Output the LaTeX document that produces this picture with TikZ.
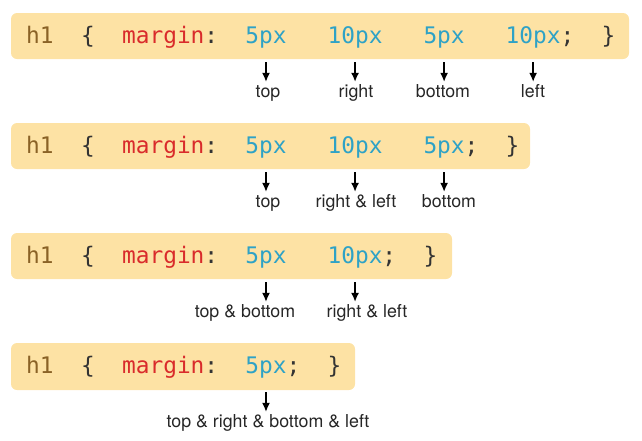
\documentclass[tikz,border=0pt]{standalone}
\usepackage{fontspec}
\setmainfont{TeX Gyre Heros}
\setmonofont{DejaVu Sans Mono}
\usetikzlibrary{arrows.meta}
\definecolor{boxbg}{HTML}{FDE2A4}
\definecolor{tagbrown}{HTML}{8A6226}
\definecolor{propred}{HTML}{D92B2B}
\definecolor{valblue}{HTML}{2EA2C6}
\definecolor{punct}{HTML}{333333}

\tikzset{
  code/.style={anchor=base west, inner sep=0pt, text=punct,
    font=\ttfamily\fontsize{22.8}{26}\selectfont, text height=17pt, text depth=5pt},
  lbl/.style={anchor=base, inner xsep=0pt, inner ysep=3pt, text=black!85,
    font=\fontsize{17.8}{21}\selectfont, text height=12pt, text depth=4pt},
  arr/.style={->, line width=1.4pt},
}

\begin{document}
\begin{tikzpicture}[x=1pt,y=-1pt]

\tikzset{>={Latex[length=9pt,width=8pt]}}
\def\cw{13.7}
\def\xz{26}

\useasboundingbox (0,0) rectangle (642,440);

% four values
\fill[boxbg, rounded corners=6pt] (11,13) rectangle (629,59);
\draw ({\xz},43) node[code,text=tagbrown] (h1a) {h1};
\draw ({\xz+4*\cw},43) node[code] (opa) {\{};
\draw ({\xz+7*\cw},43) node[code,text=propred] (propa) {margin};
\draw ({\xz+13*\cw},43) node[code] (cola) {:};
\draw ({\xz+16*\cw},43) node[code,text=valblue] (va1) {5px};
\draw ({\xz+22*\cw},43) node[code,text=valblue] (va2) {10px};
\draw ({\xz+29*\cw},43) node[code,text=valblue] (va3) {5px};
\draw ({\xz+35*\cw},43) node[code,text=valblue] (va4) {10px};
\draw ({\xz+39*\cw},43) node[code] (semia) {;};
\draw ({\xz+42*\cw},43) node[code] (cla) {\}};

\draw (268,97) node[lbl] (ta1) {top};
\draw (356,97) node[lbl] (ta2) {right};
\draw (443,97) node[lbl] (ta3) {bottom};
\draw (533,97) node[lbl] (ta4) {left};

\draw[arr] ([yshift=-14pt]va1.south) -- (va1.south |- ta1.north);
\draw[arr] ([yshift=-14pt]va2.south) -- (va2.south |- ta2.north);
\draw[arr] ([yshift=-14pt]va3.south) -- (va3.south |- ta3.north);
\draw[arr] ([yshift=-14pt]va4.south) -- (va4.south |- ta4.north);

% three values
\fill[boxbg, rounded corners=6pt] (11,123) rectangle (530,169);
\draw ({\xz},153) node[code,text=tagbrown] (h1b) {h1};
\draw ({\xz+4*\cw},153) node[code] (opb) {\{};
\draw ({\xz+7*\cw},153) node[code,text=propred] (propb) {margin};
\draw ({\xz+13*\cw},153) node[code] (colb) {:};
\draw ({\xz+16*\cw},153) node[code,text=valblue] (vb1) {5px};
\draw ({\xz+22*\cw},153) node[code,text=valblue] (vb2) {10px};
\draw ({\xz+29*\cw},153) node[code,text=valblue] (vb3) {5px};
\draw ({\xz+32*\cw},153) node[code] (semib) {;};
\draw ({\xz+35*\cw},153) node[code] (clb) {\}};

\draw (268,207) node[lbl] (tb1) {top};
\draw (356,207) node[lbl] (tb2) {right \& left};
\draw (449,207) node[lbl] (tb3) {bottom};

\draw[arr] ([yshift=-14pt]vb1.south) -- (vb1.south |- tb1.north);
\draw[arr] ([yshift=-14pt]vb2.south) -- (vb2.south |- tb2.north);
\draw[arr] ([yshift=-14pt]vb3.south) -- (vb3.south |- tb3.north);

% two values
\fill[boxbg, rounded corners=6pt] (11,233) rectangle (452,279);
\draw ({\xz},263) node[code,text=tagbrown] (h1c) {h1};
\draw ({\xz+4*\cw},263) node[code] (opc) {\{};
\draw ({\xz+7*\cw},263) node[code,text=propred] (propc) {margin};
\draw ({\xz+13*\cw},263) node[code] (colc) {:};
\draw ({\xz+16*\cw},263) node[code,text=valblue] (vc1) {5px};
\draw ({\xz+22*\cw},263) node[code,text=valblue] (vc2) {10px};
\draw ({\xz+26*\cw},263) node[code] (semic) {;};
\draw ({\xz+29*\cw},263) node[code] (clc) {\}};

\draw (245,317) node[lbl] (tc1) {top \& bottom};
\draw (367,317) node[lbl] (tc2) {right \& left};

\draw[arr] ([yshift=-14pt]vc1.south) -- (vc1.south |- tc1.north);
\draw[arr] ([yshift=-14pt]vc2.south) -- (vc2.south |- tc2.north);

% one value
\fill[boxbg, rounded corners=6pt] (11,343) rectangle (355,390);
\draw ({\xz},373) node[code,text=tagbrown] (h1d) {h1};
\draw ({\xz+4*\cw},373) node[code] (opd) {\{};
\draw ({\xz+7*\cw},373) node[code,text=propred] (propd) {margin};
\draw ({\xz+13*\cw},373) node[code] (cold) {:};
\draw ({\xz+16*\cw},373) node[code,text=valblue] (vd1) {5px};
\draw ({\xz+19*\cw},373) node[code] (semid) {;};
\draw ({\xz+22*\cw},373) node[code] (cld) {\}};

\draw (268,427) node[lbl] (td1) {top \& right \& bottom \& left};

\draw[arr] ([yshift=-14pt]vd1.south) -- (vd1.south |- td1.north);

\end{tikzpicture}
\end{document}
